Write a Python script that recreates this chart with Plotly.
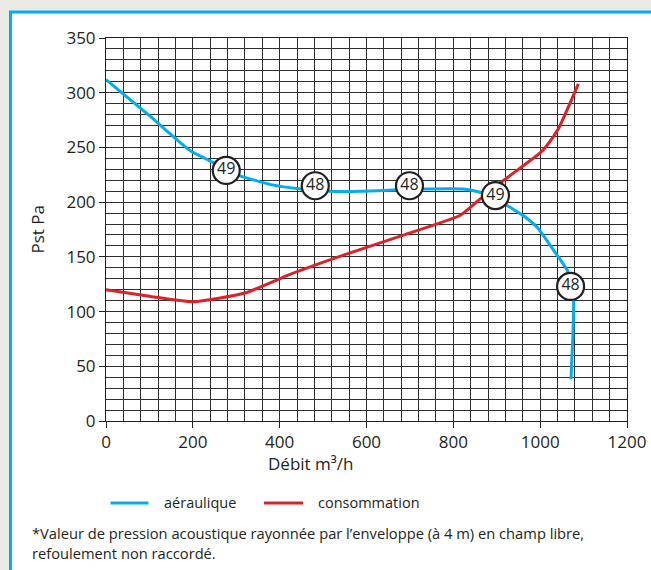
import plotly.graph_objects as go

# ---- data ----
aer_x = [0, 100, 194, 233, 277, 309, 380, 448, 517, 590, 662, 731, 823, 862, 897, 924, 960, 993, 1031, 1062, 1072, 1077, 1075, 1071]
aer_y = [312, 279, 247, 239, 230, 224, 216, 212, 210, 210, 211, 212, 212, 209, 204, 197, 188, 177, 156, 138, 123, 110, 75, 38]

cons_x = [0, 100, 200, 320, 424, 550, 678, 816, 862, 916, 1000, 1016, 1042, 1065, 1088]
cons_y = [120, 114, 109, 117, 134, 152, 169, 188, 203, 220, 245, 252, 267, 287, 308]

lab_x = [277, 482, 699, 897, 1070]
lab_y = [229, 215, 215, 206, 123]
lab_txt = ["49", "48", "48", "49", "48"]

x_ticks = [0, 200, 400, 600, 800, 1000, 1200]
y_ticks = [0, 50, 100, 150, 200, 250, 300, 350]

legend_names = ["aéraulique", "consommation"]
footnote = ["*Valeur de pression acoustique rayonnée par l’enveloppe (à 4 m) en champ libre,",
            "refoulement non raccordé."]

BLUE = "#00aeef"
RED = "#dc2128"
INK = "#231f20"
GRID = "#2e2e2e"
FONT = "Open Sans"

W, H = 651, 570
L, R, T, B = 106, 24, 38, 149
PW, PH = W - L - R, H - T - B


def fx(px):
    return (px - L) / PW


def fy(py):
    return (H - B - py) / PH


fig = go.Figure()
fig.add_trace(go.Scatter(x=aer_x, y=aer_y, mode="lines", name=legend_names[0],
                         line=dict(color=BLUE, width=3, shape="spline", smoothing=0.5),
                         showlegend=False, hoverinfo="skip"))
fig.add_trace(go.Scatter(x=cons_x, y=cons_y, mode="lines", name=legend_names[1],
                         line=dict(color=RED, width=3, shape="spline", smoothing=0.5),
                         showlegend=False, hoverinfo="skip"))
fig.add_trace(go.Scatter(x=lab_x, y=lab_y, mode="markers+text", text=lab_txt,
                         textposition="middle center",
                         textfont=dict(family=FONT, size=16, color=INK),
                         marker=dict(size=27, color="white", line=dict(color=INK, width=2.2)),
                         showlegend=False, hoverinfo="skip"))

axis_common = dict(showgrid=True, gridcolor=GRID, gridwidth=1, zeroline=False,
                   showline=True, linecolor=INK, linewidth=1, mirror=True,
                   ticks="outside", ticklen=6, tickcolor=INK, tickwidth=1,
                   tickfont=dict(family=FONT, size=17, color=INK))

fig.update_xaxes(range=[0, 1200], tickvals=x_ticks,
                 minor=dict(dtick=40, tick0=0, showgrid=True, gridcolor=GRID, gridwidth=1),
                 **axis_common)
fig.update_yaxes(range=[0, 350], tickvals=y_ticks,
                 minor=dict(dtick=10, tick0=0, showgrid=True, gridcolor=GRID, gridwidth=1),
                 **axis_common)

shapes = [
    dict(type="rect", xref="paper", yref="paper", x0=fx(10.5), x1=fx(670), y0=fy(590), y1=fy(12),
         line=dict(color=BLUE, width=3), fillcolor="white", layer="below"),
    dict(type="line", xref="paper", yref="paper", x0=fx(110.5), x1=fx(148.5), y0=fy(503), y1=fy(503),
         line=dict(color=BLUE, width=3)),
    dict(type="line", xref="paper", yref="paper", x0=fx(264), x1=fx(303), y0=fy(503), y1=fy(503),
         line=dict(color=RED, width=3)),
]

annotations = [
    dict(text="Pst Pa", x=fx(37), y=fy(229.5), xref="paper", yref="paper", textangle=-90,
         showarrow=False, font=dict(family=FONT, size=17, color=INK), xanchor="center", yanchor="middle"),
    dict(text="Débit m³/h", x=fx(310), y=fy(463), xref="paper", yref="paper",
         showarrow=False, font=dict(family=FONT, size=17, color=INK), xanchor="center", yanchor="middle"),
    dict(text=legend_names[0], x=fx(162), y=fy(502), xref="paper", yref="paper", showarrow=False,
         font=dict(family=FONT, size=14.5, color=INK), xanchor="left", yanchor="middle"),
    dict(text=legend_names[1], x=fx(316), y=fy(502), xref="paper", yref="paper", showarrow=False,
         font=dict(family=FONT, size=14.5, color=INK), xanchor="left", yanchor="middle"),
    dict(text=footnote[0], x=fx(30), y=fy(533), xref="paper", yref="paper", showarrow=False,
         font=dict(family=FONT, size=14.7, color=INK), xanchor="left", yanchor="middle"),
    dict(text=footnote[1], x=fx(30), y=fy(553), xref="paper", yref="paper", showarrow=False,
         font=dict(family=FONT, size=14.7, color=INK), xanchor="left", yanchor="middle"),
]

fig.update_layout(width=W, height=H, margin=dict(l=L, r=R, t=T, b=B, autoexpand=False),
                  paper_bgcolor="#ebebe6", plot_bgcolor="white",
                  shapes=shapes, annotations=annotations, showlegend=False,
                  font=dict(family=FONT, color=INK))

fig.write_html("out.html", config={"displayModeBar": False},
               post_script="document.body.style.margin='0';document.body.style.overflow='hidden';"
                           "document.body.style.background='#ebebe6';")
